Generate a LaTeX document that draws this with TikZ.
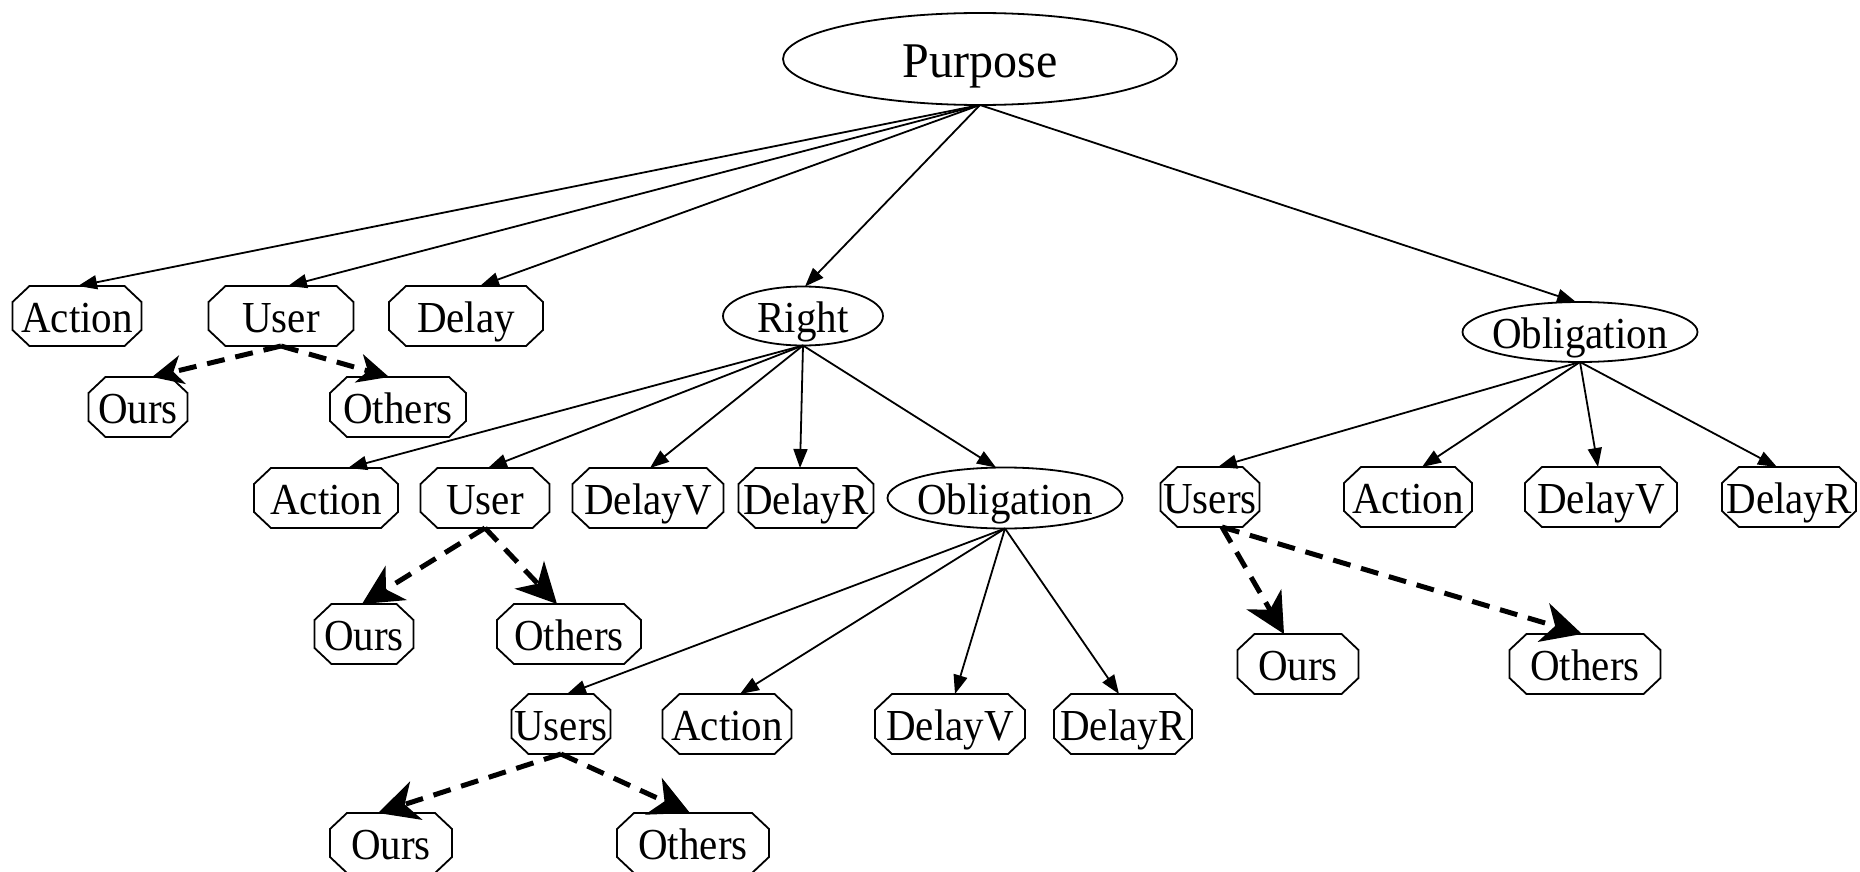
\documentclass[tikz,border=0pt]{standalone}
\usepackage{fontspec}
\usepackage{graphicx}
\setmainfont{Liberation Serif}
\usetikzlibrary{shapes.geometric,arrows.meta}

\tikzset{
  lbl/.style={inner sep=0pt, outer sep=0pt, minimum height=60pt, text height=32pt, text depth=0pt, font=\fontsize{41}{49}\selectfont},
  octline/.style={line width=1.8pt, line join=miter},
  ell/.style={ellipse, draw, line width=1.8pt, inner sep=0pt, outer sep=0pt, text height=32pt, text depth=0pt, font=\fontsize{41}{49}\selectfont},
  solidedge/.style={line width=1.8pt, -{Triangle[length=19pt,width=14pt]}},
  dashedge/.style={line width=5pt, dash pattern=on 18pt off 11pt, -{Stealth[length=40pt,width=40pt,inset=12pt]}},
  dashsmall/.style={line width=5pt, dash pattern=on 18pt off 11pt, -{Stealth[length=31pt,width=29pt,inset=9pt]}},
}

\newcommand{\tx}[1]{\scalebox{1}[1.08]{#1}}
\newcommand{\etx}[1]{\makebox[0pt]{\scalebox{1}[1.08]{#1}}}

\newcommand{\octnode}[5]{%
  \node[lbl, minimum width=#4pt] (#1) at (#2,#3) {\tx{#5}};
  \draw[octline] ([xshift=17pt]#1.north west) -- ([xshift=-17pt]#1.north east) -- ([yshift=-16pt]#1.north east) -- ([yshift=16pt]#1.south east) -- ([xshift=-17pt]#1.south east) -- ([xshift=17pt]#1.south west) -- ([yshift=16pt]#1.south west) -- ([yshift=-16pt]#1.north west) -- cycle;
}

\begin{document}
\begin{tikzpicture}[x=1pt, y=-1pt]
\useasboundingbox (0,0) rectangle (1860,872);

% ellipses
\node[ell, minimum width=394pt, minimum height=92pt, text height=38pt, font=\fontsize{48}{56}\selectfont] (purpose) at (980,59) {\makebox[0pt]{\scalebox{1}[1.04]{Purpose}}};
\node[ell, minimum width=160pt, minimum height=59pt] (right) at (803,316) {\etx{Right}};
\node[ell, minimum width=235pt, minimum height=60pt] (obl1) at (1580,332) {\etx{Obligation}};
\node[ell, minimum width=235pt, minimum height=61pt] (obl2) at (1005,498) {\etx{Obligation}};

% octagons
\octnode{action1}{77}{316}{129}{Action}
\octnode{user1}{281}{316}{145}{User}
\octnode{delay1}{466}{316}{154}{Delay}
\octnode{ours1}{138}{407}{99}{Ours}
\octnode{others1}{398}{407}{136}{Others}
\octnode{action2}{326}{498}{144}{Action}
\octnode{user2}{485}{498}{129}{User}
\octnode{delayv2}{648}{498}{151}{DelayV}
\octnode{delayr2}{806}{498}{135}{DelayR}
\octnode{users3}{1210}{497}{99}{Users}
\octnode{action3}{1408}{497}{128}{Action}
\octnode{delayv3}{1601}{497}{152}{DelayV}
\octnode{delayr3}{1789}{497}{134}{DelayR}
\octnode{ours2}{364}{634}{99}{Ours}
\octnode{others2}{569}{634}{144}{Others}
\octnode{ours4}{1298}{664}{121}{Ours}
\octnode{others4}{1585}{664}{151}{Others}
\octnode{users2}{561}{724}{99}{Users}
\octnode{action4}{727}{724}{129}{Action}
\octnode{delayv4}{950}{724}{150}{DelayV}
\octnode{delayr4}{1123}{724}{138}{DelayR}
\octnode{ours3}{391}{843}{122}{Ours}
\octnode{others3}{693}{843}{152}{Others}

% Purpose edges
\draw[solidedge] (purpose.south) -- ([xshift=1pt]action1.north);
\draw[solidedge] (purpose.south) -- ([xshift=7pt]user1.north);
\draw[solidedge] (purpose.south) -- ([xshift=14pt]delay1.north);
\draw[solidedge] (purpose.south) -- ([xshift=2pt]right.north);
\draw[solidedge] (purpose.south) -- ([xshift=-4pt]obl1.north);

% User1
\draw[dashsmall] (user1.south) -- ([xshift=14pt]ours1.north);
\draw[dashsmall] (user1.south) -- ([xshift=-9pt]others1.north);

% Right edges
\draw[solidedge] (right.south) -- ([xshift=22pt]action2.north);
\draw[solidedge] (right.south) -- ([xshift=3pt]user2.north);
\draw[solidedge] (right.south) -- ([xshift=2pt]delayv2.north);
\draw[solidedge] (right.south) -- ([xshift=-6pt]delayr2.north);
\draw[solidedge] (right.south) -- ([xshift=-9pt]obl2.north);

% User2
\draw[dashedge] (user2.south) -- ([xshift=-2pt]ours2.north);
\draw[dashedge] (user2.south) -- ([xshift=-12pt]others2.north);

% Obligation 2
\draw[solidedge] (obl2.south) -- ([xshift=6pt]users2.north);
\draw[solidedge] (obl2.south) -- ([xshift=13pt]action4.north);
\draw[solidedge] (obl2.south) -- ([xshift=5pt]delayv4.north);
\draw[solidedge] (obl2.south) -- ([xshift=-4pt]delayr4.north);

% Users2
\draw[dashedge] (users2.south) -- ([xshift=-13pt]ours3.north);
\draw[dashedge] (users2.south) -- ([xshift=-3pt]others3.north);

% Obligation 1
\draw[solidedge] (obl1.south) -- ([xshift=8pt]users3.north);
\draw[solidedge] (obl1.south) -- ([xshift=14pt]action3.north);
\draw[solidedge] (obl1.south) -- ([xshift=-3pt]delayv3.north);
\draw[solidedge] (obl1.south) -- ([xshift=-12pt]delayr3.north);

% Users3
\draw[dashedge] ([xshift=12pt]users3.south) -- ([xshift=-14pt]ours4.north);
\draw[dashedge] ([xshift=12pt]users3.south) -- ([xshift=-3pt]others4.north);
\end{tikzpicture}
\end{document}
